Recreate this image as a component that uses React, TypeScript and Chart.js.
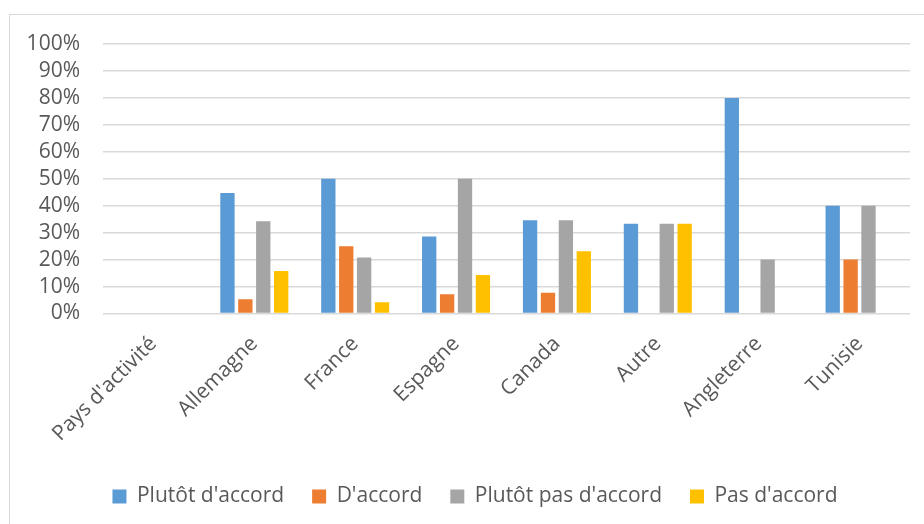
import React, { useEffect, useRef } from "react";
import { Chart, registerables } from "chart.js";

Chart.register(...registerables);

const categories = ["Pays d'activité", "Allemagne", "France", "Espagne", "Canada", "Autre", "Angleterre", "Tunisie"];
const plutotDaccord = [null, 44.7, 50.0, 28.6, 34.6, 33.3, 80.0, 40.0];
const daccord = [null, 5.3, 25.0, 7.1, 7.7, 0, 0, 20.0];
const plutotPasDaccord = [null, 34.2, 20.8, 50.0, 34.6, 33.3, 20.0, 40.0];
const pasDaccord = [null, 15.8, 4.2, 14.3, 23.1, 33.3, 0, 0];
const seriesNames = ["Plutôt d'accord", "D'accord", "Plutôt pas d'accord", "Pas d'accord"];
const seriesColors = ["#5B9BD5", "#ED7D31", "#A5A5A5", "#FFC000"];

const shiftLegend = {
  id: "shiftLegend",
  afterLayout(chart: any) {
    if (chart.legend) {
      chart.legend.left += 15;
      chart.legend.right += 15;
    }
  },
};

export default function App() {
  const ref = useRef<HTMLCanvasElement | null>(null);
  useEffect(() => {
    if (!ref.current) return;
    const font = { family: "'Open Sans', sans-serif", size: 21 };
    const data = [plutotDaccord, daccord, plutotPasDaccord, pasDaccord];
    const chart = new Chart(ref.current, {
      type: "bar",
      plugins: [shiftLegend],
      data: {
        labels: categories,
        datasets: data.map((d, i) => ({
          label: seriesNames[i],
          data: d,
          backgroundColor: seriesColors[i],
          borderWidth: 0,
          categoryPercentage: 0.71,
          barPercentage: 0.8,
        })),
      },
      options: {
        responsive: false,
        animation: false,
        maintainAspectRatio: false,
        layout: { padding: { left: 10, right: 14, top: 44, bottom: 7 } },
        plugins: {
          tooltip: { enabled: false },
          legend: {
            position: "bottom",
            labels: { font, color: "#595959", boxWidth: 14, boxHeight: 14, padding: 28 },
          },
        },
        scales: {
          x: {
            grid: { display: false },
            border: { display: false },
            ticks: { font, color: "#595959", minRotation: 45, maxRotation: 45, autoSkip: false, padding: 10 },
            afterFit: (s: any) => { s.height = 144.5; },
          },
          y: {
            min: 0,
            max: 100,
            grid: { color: "#D9D9D9", lineWidth: 1.5, drawTicks: false },
            border: { display: false },
            ticks: {
              stepSize: 10,
              autoSkip: false,
              font,
              color: "#595959",
              padding: 23,
              callback: (v: any) => v + "%",
            },
            afterFit: (s: any) => { s.width = 93; },
          },
        },
      },
    });
    return () => chart.destroy();
  }, []);
  return (
    <div style={{ position: "fixed", left: 0, top: 0, width: 924, height: 524, overflow: "hidden", background: "#fff" }}>
      <div style={{ position: "absolute", left: 9, top: 14, width: 1000, height: 600, border: "1px solid #D9D9D9" }} />
      <canvas ref={ref} width={924} height={524} style={{ position: "absolute", left: 0, top: 0 }} />
    </div>
  );
}
